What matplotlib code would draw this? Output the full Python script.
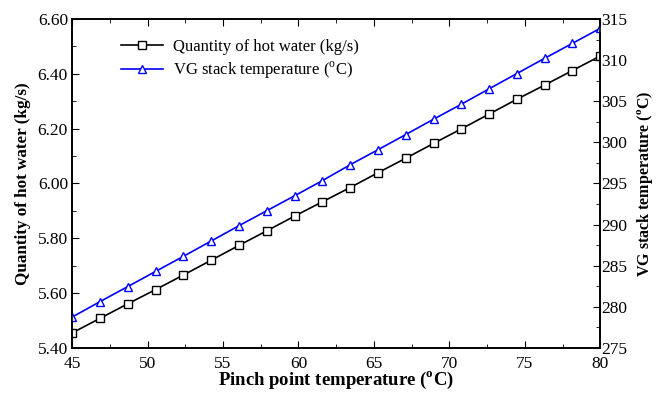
import numpy as np
import matplotlib
matplotlib.use("Agg")
import matplotlib.pyplot as plt
from matplotlib.ticker import MultipleLocator, FormatStrFormatter

# --- Data ---
pinch_temp = [45.00, 46.84, 48.68, 50.53, 52.37, 54.21, 56.05, 57.89, 59.74, 61.58,
              63.42, 65.26, 67.11, 68.95, 70.79, 72.63, 74.47, 76.32, 78.16, 80.00]
hot_water = [5.455, 5.508, 5.561, 5.613, 5.666, 5.720, 5.774, 5.827, 5.881, 5.933,
             5.985, 6.039, 6.092, 6.146, 6.199, 6.253, 6.307, 6.359, 6.412, 6.465]
stack_temp = [278.76, 280.63, 282.46, 284.31, 286.14, 288.00, 289.86, 291.68, 293.50, 295.34,
              297.27, 299.09, 300.95, 302.81, 304.63, 306.50, 308.36, 310.22, 312.04, 313.86]

plt.rcParams["font.family"] = ["Liberation Serif", "DejaVu Serif"]
plt.rcParams["mathtext.fontset"] = "custom"
plt.rcParams["mathtext.rm"] = "Liberation Serif"
plt.rcParams["mathtext.bf"] = "Liberation Serif:bold"

fig = plt.figure(figsize=(6.56, 3.95), dpi=100)
ax = fig.add_axes([0.110, 0.119, 0.805, 0.833])
ax2 = ax.twinx()

l1, = ax.plot(pinch_temp, hot_water, color="black", lw=1.2, marker="s", ms=6,
              mfc="white", mec="black", mew=1.0, label="Quantity of hot water (kg/s)")
l2, = ax2.plot(pinch_temp, stack_temp, color="blue", lw=1.2, marker="^", ms=6,
               mfc="white", mec="blue", mew=1.0, label=r"VG stack temperature ($^\mathrm{o}$C)")

# --- Axes ---
ax.set_xlim(45, 80)
ax.set_ylim(5.40, 6.60)
ax2.set_ylim(275, 315)

ax.xaxis.set_major_locator(MultipleLocator(5))
ax.xaxis.set_minor_locator(MultipleLocator(2.5))
ax.yaxis.set_major_locator(MultipleLocator(0.2))
ax.yaxis.set_minor_locator(MultipleLocator(0.1))
ax.yaxis.set_major_formatter(FormatStrFormatter("%.2f"))
ax2.yaxis.set_major_locator(MultipleLocator(5))
ax2.yaxis.set_minor_locator(MultipleLocator(2.5))

ax.tick_params(which="both", direction="in", top=True, right=False, labelsize=12.5)
ax.tick_params(axis="x", pad=5.5)
ax.tick_params(axis="y", pad=3)
ax.tick_params(which="major", length=5)
ax.tick_params(which="minor", length=3)
ax2.tick_params(which="both", direction="in", labelsize=12.5, pad=1)
ax2.tick_params(which="major", length=5)
ax2.tick_params(which="minor", length=3)

for a in (ax, ax2):
    for s in a.spines.values():
        s.set_linewidth(1.2)

ax.set_xlabel(r"Pinch point temperature ($^{\mathbf{o}}$C)", fontsize=13.5, fontweight="bold", labelpad=-1)
ax.set_ylabel("Quantity of hot water (kg/s)", fontsize=12.3, fontweight="bold", labelpad=5)
ax2.set_ylabel(r"VG stack temperature ($^{\mathbf{o}}$C)", fontsize=11.5, fontweight="bold", labelpad=5)

ax.legend(handles=[l1, l2], loc="upper left", bbox_to_anchor=(0.065, 0.985), frameon=False,
          fontsize=12, handlelength=2.5, handletextpad=0.6, labelspacing=0.3)

fig.savefig("out.png", dpi=100)
